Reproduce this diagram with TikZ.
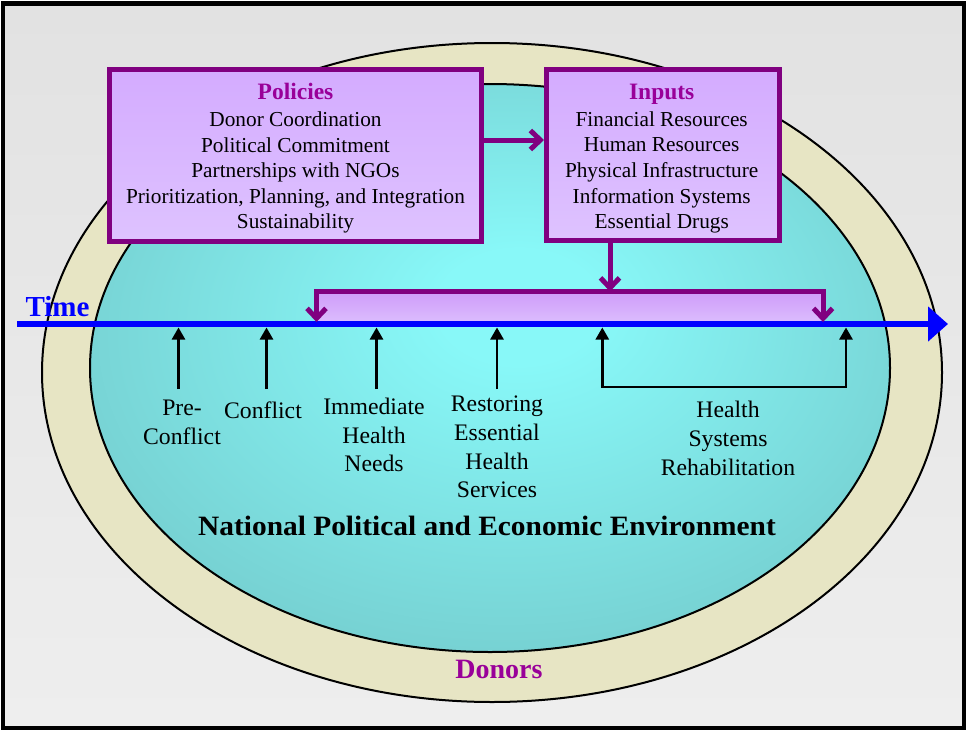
\documentclass[tikz,border=0pt]{standalone}
\usepackage{fontspec}
\usepackage{graphicx}
\setmainfont{Liberation Serif}
\usetikzlibrary{arrows.meta}
\definecolor{bgtop}{HTML}{DCDCDC}
\definecolor{bgbot}{HTML}{F4F4F4}
\definecolor{beige}{HTML}{E7E5C4}
\definecolor{glowc}{HTML}{88F8F8}
\definecolor{glowe}{HTML}{69B3B5}
\definecolor{plum}{HTML}{800080}
\definecolor{ttl}{HTML}{990099}
\definecolor{boxtop}{HTML}{CFA0FF}
\definecolor{boxbot}{HTML}{E3CEFF}
\definecolor{bartop}{HTML}{C88CF8}
\definecolor{barbot}{HTML}{E2CCFF}
\definecolor{timeblue}{HTML}{0000FF}
\pgfdeclareverticalshading{bggrad}{100bp}{color(0bp)=(bgbot); color(100bp)=(bgtop)}
\pgfdeclareverticalshading{boxgrad}{100bp}{color(0bp)=(boxbot); color(100bp)=(boxtop)}
\pgfdeclareverticalshading{bargrad}{100bp}{color(0bp)=(barbot); color(100bp)=(bartop)}
\pgfdeclareradialshading{glow}{\pgfpoint{2bp}{6bp}}{color(0bp)=(glowc); color(5bp)=(glowc); color(46bp)=(glowe); color(50bp)=(glowe)}
\tikzset{
  frame/.style={draw=black, line width=4.5pt, shading=bggrad, shade},
  outerell/.style={draw=black, line width=2pt, fill=beige},
  innerell/.style={draw=black, line width=2pt, shading=glow, shade},
  pbox/.style={draw=plum, line width=5pt, shading=boxgrad, shade, rectangle, inner sep=0pt},
  boxtext/.style={align=center, inner sep=0pt, font=\fontsize{21.3}{25.6}\selectfont},
  barb/.tip={Straight Barb[length=10pt,width=19pt,line width=5pt]},
  parrow/.style={draw=plum, line width=5pt, -barb},
  pbracket/.style={draw=plum, line width=5pt, barb-barb},
  barfill/.style={inner sep=0pt, outer sep=0pt, shading=bargrad, shade},
  timeline/.style={draw=timeblue, line width=6pt, -{Triangle[length=20pt,width=34pt]}},
  tick/.style={draw=black, line width=2.5pt, -{Triangle[length=12pt,width=13pt]}},
  tickpair/.style={draw=black, line width=2.5pt, {Triangle[length=12pt,width=13pt]}-{Triangle[length=12pt,width=13pt]}},
  lbl/.style={align=center, inner sep=0pt, font=\fontsize{23.7}{28.7}\selectfont},
  bigbold/.style={inner sep=0pt, font=\fontsize{28}{32}\selectfont\bfseries}
}
\newcommand{\boxtitle}[1]{{\fontsize{23.5}{26.7}\selectfont\bfseries\color{ttl}#1}}
\begin{document}
\begin{tikzpicture}[x=1pt,y=-1pt]
\useasboundingbox (0,0) rectangle (966,731);
\fill[white] (0,0) rectangle (966,731);
\path[frame] (3,3.5) rectangle (964,728);
% environment ellipses
\path[outerell] (492,372.5) ellipse [x radius=450pt, y radius=329.5pt];
\path[innerell] (490,368) ellipse [x radius=400pt, y radius=284pt];
% boxes
\node[pbox, minimum width=372pt, minimum height=172pt] (pol) at (295.5,155.5) {};
\node[pbox, minimum width=233pt, minimum height=171pt] (inp) at (663,155) {};
\node[boxtext] (polt) at (295.5,158.5) {\boxtitle{Policies}\\[1.1pt]Donor Coordination\\Political Commitment\\Partnerships with NGOs\\Prioritization, Planning, and Integration\\Sustainability};
\node[boxtext] (inpt) at (661.7,158.7) {\boxtitle{Inputs}\\[1.1pt]Financial Resources\\Human Resources\\Physical Infrastructure\\Information Systems\\Essential Drugs};
\draw[parrow] ([yshift=15.5pt]pol.east) -- ([yshift=15pt]inp.west);
% bracket bar
\node[barfill, minimum width=506.5pt, minimum height=30.5pt] (bar) at (569.75,306.75) {};
% time axis
\coordinate (tstart) at (17,324);
\coordinate (tend) at (948,324);
\draw[timeline] (tstart) -- (tend);
\node[anchor=base, inner sep=0pt, font=\fontsize{29}{32}\selectfont\bfseries, text=timeblue] (time) at (57.5,316) {Time};
\draw[parrow] ([xshift=-53pt]inp.south) -- ([xshift=-53pt]inp.south |- bar.north);
\draw[pbracket] (bar.south west) -- (bar.north west) -- (bar.north east) -- (bar.south east);
% ticks
\coordinate (a1) at (178.5,327.5); \coordinate (b1) at (178.5,389);
\coordinate (a2) at (266.5,327.5); \coordinate (b2) at (266.5,389);
\coordinate (a3) at (376.5,327.5); \coordinate (b3) at (376.5,389);
\coordinate (a4) at (497,327.5);   \coordinate (b4) at (497,389);
\coordinate (a5) at (602.3,327.5); \coordinate (b5) at (602.3,387);
\coordinate (a6) at (846,327.5);   \coordinate (b6) at (846,387);
\draw[tick] (b1) -- (a1);
\draw[tick] (b2) -- (a2);
\draw[tick] (b3) -- (a3);
\draw[tick] (b4) -- (a4);
\draw[tickpair] (a5) -- (b5) -- (b6) -- (a6);
% labels
\node[lbl] (pre) at (182,422.5) {Pre-\\Conflict};
\node[lbl, anchor=base] (con) at (263,418) {Conflict};
\node[lbl] (imm) at (374,435) {Immediate\\Health\\Needs};
\node[lbl] (res) at (497,447) {Restoring\\Essential\\Health\\Services};
\node[lbl] (hsr) at (728,438.5) {Health\\Systems\\Rehabilitation};
\node[bigbold, anchor=base] (env) at (487,535) {\scalebox{1.05}[1]{National Political and Economic Environment}};
\node[bigbold, anchor=base, text=ttl] (don) at (499,678) {Donors};
\end{tikzpicture}
\end{document}
